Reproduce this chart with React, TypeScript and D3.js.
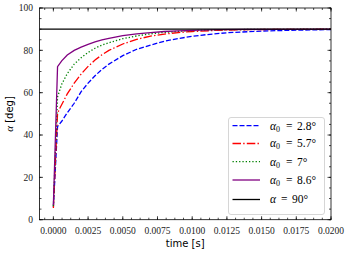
import * as d3 from "d3";

const width = 349;
const height = 255;
const left = 39.5;
const right = 331;
const top = 8;
const bottom = 219.7;

// [time s, alpha deg]
const alpha28 = [
  [0, 6], [0.0003, 44], [0.0006, 46.5], [0.001, 50.5], [0.0015, 55], [0.002, 60.5],
  [0.0025, 64.5], [0.003, 68], [0.0035, 71], [0.004, 73.5], [0.005, 77.5], [0.006, 80.5],
  [0.007, 82.5], [0.008, 84.3], [0.009, 85.6], [0.01, 86.6], [0.011, 87.4], [0.0125, 88.3],
  [0.014, 88.8], [0.015, 89.1], [0.016, 89.3], [0.0175, 89.55], [0.019, 89.7], [0.02, 89.8],
];
const alpha57 = [
  [0, 5.5], [0.0003, 50.3], [0.0005, 53.1], [0.001, 59.4], [0.0015, 64.5], [0.002, 68.8],
  [0.0025, 72.4], [0.003, 75.4], [0.0035, 77.9], [0.004, 80], [0.005, 83], [0.006, 85.2],
  [0.007, 86.7], [0.008, 87.7], [0.009, 88.4], [0.01, 88.9], [0.012, 89.5], [0.014, 89.75],
  [0.016, 89.88], [0.02, 89.97],
];
const alpha7 = [
  [0, 6.5], [0.0003, 58], [0.0006, 64], [0.001, 69], [0.0015, 73.5], [0.002, 76.5],
  [0.0025, 79], [0.003, 81], [0.0035, 82.5], [0.004, 83.6], [0.005, 85.5], [0.006, 86.8],
  [0.007, 87.8], [0.008, 88.5], [0.009, 89], [0.01, 89.3], [0.012, 89.7], [0.014, 89.85],
  [0.016, 89.93], [0.02, 89.98],
];
const alpha86 = [
  [0, 7], [0.0003, 72.3], [0.0006, 75], [0.001, 77.8], [0.0015, 80], [0.002, 81.5],
  [0.0025, 82.8], [0.003, 84], [0.0035, 85], [0.004, 85.7], [0.005, 87], [0.006, 87.8],
  [0.007, 88.4], [0.008, 88.9], [0.009, 89.2], [0.01, 89.45], [0.012, 89.75], [0.014, 89.88],
  [0.016, 89.95], [0.02, 89.99],
];
const targetAlpha = 90;

const series = [
  { data: alpha28, color: "blue", dash: "5,2", label: "2.8°" },
  { data: alpha57, color: "red", dash: "8.5,2.2,1.4,2.2", label: "5.7°" },
  { data: alpha7, color: "green", dash: "1.3,2", label: "7°" },
  { data: alpha86, color: "purple", dash: null, label: "8.6°" },
];

const xTicks = d3.range(0, 0.02001, 0.0025);
const xMinor = d3.range(-0.000625, 0.0201, 0.000625);
const yTicks = [0, 20, 40, 60, 80, 100];
const yMinor = d3.range(0, 101, 5);

const serif = "'Liberation Serif', 'DejaVu Serif', serif";
const sans = "'DejaVu Sans', sans-serif";

export default function App() {
  const x = d3.scaleLinear().domain([-0.001, 0.02]).range([left, right]);
  const y = d3.scaleLinear().domain([0, 100]).range([bottom, top]);
  const line = d3
    .line<number[]>()
    .x((d) => x(d[0]))
    .y((d) => y(d[1]));

  const legX = 228.5;
  const legY = 117.5;
  const rows = [125.7, 143.5, 161.7, 180, 199.5];

  return (
    <svg width={width} height={height} style={{ position: "absolute", left: 0, top: 0 }}>
      <rect width={width} height={height} fill="white" />
      <defs>
        <clipPath id="plot">
          <rect x={left} y={top} width={right - left} height={bottom - top} />
        </clipPath>
      </defs>
      <g clipPath="url(#plot)">
        {series.map((s, i) => (
          <path
            key={i}
            d={line(s.data) || ""}
            fill="none"
            stroke={s.color}
            strokeWidth={1.3}
            strokeDasharray={s.dash || undefined}
          />
        ))}
        <line x1={left} x2={right} y1={y(targetAlpha)} y2={y(targetAlpha)} stroke="black" strokeWidth={1.3} />
      </g>

      {/* ticks, inward on all sides */}
      <g stroke="black" strokeWidth={0.7}>
        {xMinor.map((t, i) => (
          <g key={"xm" + i}>
            <line x1={x(t)} x2={x(t)} y1={bottom} y2={bottom - 2} />
            <line x1={x(t)} x2={x(t)} y1={top} y2={top + 2} />
          </g>
        ))}
        {xTicks.map((t, i) => (
          <g key={"x" + i}>
            <line x1={x(t)} x2={x(t)} y1={bottom} y2={bottom - 3.5} />
            <line x1={x(t)} x2={x(t)} y1={top} y2={top + 3.5} />
          </g>
        ))}
        {yMinor.map((t, i) => (
          <g key={"ym" + i}>
            <line x1={left} x2={left + 2} y1={y(t)} y2={y(t)} />
            <line x1={right} x2={right - 2} y1={y(t)} y2={y(t)} />
          </g>
        ))}
        {yTicks.map((t, i) => (
          <g key={"y" + i}>
            <line x1={left} x2={left + 3.5} y1={y(t)} y2={y(t)} />
            <line x1={right} x2={right - 3.5} y1={y(t)} y2={y(t)} />
          </g>
        ))}
      </g>
      <rect x={left} y={top} width={right - left} height={bottom - top} fill="none" stroke="black" strokeWidth={0.8} />

      <g fontFamily={serif} fontSize={9.5} fill="#222">
        {xTicks.map((t, i) => (
          <text key={i} x={x(t)} y={234} textAnchor="middle">
            {d3.format(".4f")(t)}
          </text>
        ))}
        {yTicks.map((t, i) => (
          <text key={i} x={33} y={y(t) + 3.3} textAnchor="end">
            {t}
          </text>
        ))}
      </g>

      <text x={(left + right) / 2} y={246.5} textAnchor="middle" fontFamily={sans} fontSize={10}>
        time [s]
      </text>
      <text transform="translate(13,114) rotate(-90)" textAnchor="middle" fontSize={10}>
        <tspan fontFamily={serif} fontStyle="italic" fontSize={11}>α</tspan>
        <tspan fontFamily={sans}> [deg]</tspan>
      </text>

      {/* legend */}
      <rect x={legX} y={legY} width={96} height={97} rx={2.5} fill="white" fillOpacity={0.85} stroke="#cccccc" strokeWidth={0.8} />
      {series.map((s, i) => (
        <g key={i}>
          <line
            x1={232.5}
            x2={260}
            y1={rows[i]}
            y2={rows[i]}
            stroke={s.color}
            strokeWidth={1.3}
            strokeDasharray={s.dash || undefined}
          />
          <text y={rows[i] + 3.8} fontFamily={serif} fontSize={11.5}>
            <tspan x={270} fontStyle="italic">α</tspan>
            <tspan fontSize={8} dy={2}>0</tspan>
            <tspan x={286} dy={-2}>=</tspan>
            <tspan x={297}>{s.label}</tspan>
          </text>
        </g>
      ))}
      <line x1={232.5} x2={260} y1={rows[4]} y2={rows[4]} stroke="black" strokeWidth={1.3} />
      <text y={rows[4] + 3.8} fontFamily={serif} fontSize={11.5}>
        <tspan x={270} fontStyle="italic">α</tspan>
        <tspan x={281}>=</tspan>
        <tspan x={292}>{targetAlpha}°</tspan>
      </text>
    </svg>
  );
}
